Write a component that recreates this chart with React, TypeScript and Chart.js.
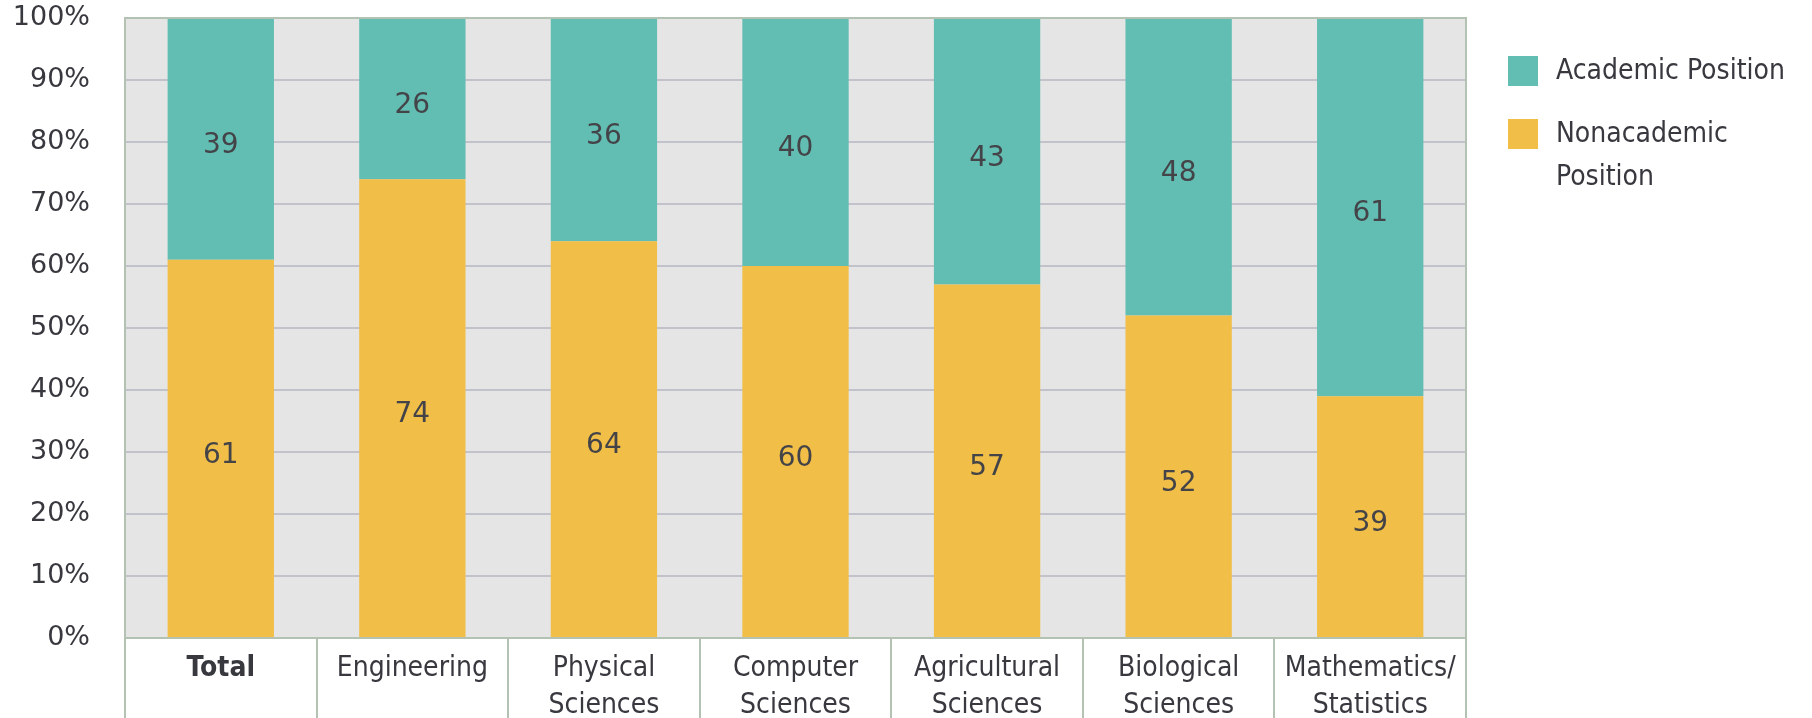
import React, { useEffect, useRef } from "react";
import { Chart, registerables } from "chart.js";

Chart.register(...registerables);

const categories: (string | string[])[] = [
  "Total",
  "Engineering",
  ["Physical", "Sciences"],
  ["Computer", "Sciences"],
  ["Agricultural", "Sciences"],
  ["Biological", "Sciences"],
  ["Mathematics/", "Statistics"],
];
const nonacademic = [61, 74, 64, 60, 57, 52, 39];
const academic = [39, 26, 36, 40, 43, 48, 61];
const yTicks = [0, 10, 20, 30, 40, 50, 60, 70, 80, 90, 100];
const legendLabels: string[][] = [["Academic Position"], ["Nonacademic", "Position"]];

const TEAL = "#62bdb3";
const YELLOW = "#f1be48";
const TEXT = "#38383f";
const FRAME = "#b3c2b3";
const GRID = "#c2c2ca";
const PLOT_BG = "#e5e5e5";
const NARROW = '"DejaVu Sans Condensed", "Liberation Sans Narrow", sans-serif';
const SANS = '"DejaVu Sans", sans-serif';

export default function App() {
  const ref = useRef<HTMLCanvasElement | null>(null);

  useEffect(() => {
    const canvas = ref.current;
    if (!canvas) return;

    const framePlugin = {
      id: "frame",
      beforeDraw(chart: any) {
        const { ctx, chartArea: a } = chart;
        ctx.save();
        ctx.fillStyle = PLOT_BG;
        ctx.fillRect(a.left, a.top, a.right - a.left, a.bottom - a.top);
        ctx.restore();
      },
      afterDraw(chart: any) {
        const { ctx, chartArea: a } = chart;
        const H = chart.height;
        ctx.save();
        ctx.strokeStyle = FRAME;
        ctx.lineWidth = 2;
        ctx.strokeRect(a.left, a.top, a.right - a.left, a.bottom - a.top);
        const n = categories.length;
        const w = (a.right - a.left) / n;
        for (let i = 0; i <= n; i++) {
          const x = Math.round(a.left + i * w);
          ctx.beginPath();
          ctx.moveTo(x, a.bottom);
          ctx.lineTo(x, H);
          ctx.stroke();
        }
        // legend
        const colors = [TEAL, YELLOW];
        const sq = 30;
        const sx = a.right + 42;
        const tops = [56, 119];
        ctx.font = `28px ${NARROW}`;
        ctx.textBaseline = "middle";
        ctx.textAlign = "left";
        legendLabels.forEach((lines, i) => {
          ctx.fillStyle = colors[i];
          ctx.fillRect(sx, tops[i], sq, sq);
          ctx.fillStyle = TEXT;
          lines.forEach((t, j) => {
            ctx.fillText(t, sx + 48, tops[i] + 16 + j * 43);
          });
        });
        ctx.restore();
      },
    };

    const valuePlugin = {
      id: "values",
      afterDatasetsDraw(chart: any) {
        const { ctx } = chart;
        ctx.save();
        ctx.font = `28px ${SANS}`;
        ctx.fillStyle = "#444448";
        ctx.textAlign = "center";
        ctx.textBaseline = "middle";
        chart.data.datasets.forEach((ds: any, di: number) => {
          const meta = chart.getDatasetMeta(di);
          meta.data.forEach((el: any, i: number) => {
            const y = (el.y + el.base) / 2 + 7;
            ctx.fillText(String(ds.data[i]), el.x, y);
          });
        });
        ctx.restore();
      },
    };

    const chart = new Chart(canvas, {
      type: "bar",
      data: {
        labels: categories,
        datasets: [
          {
            label: "Nonacademic Position",
            data: nonacademic,
            backgroundColor: YELLOW,
            borderWidth: 0,
            categoryPercentage: 1,
            barPercentage: 0.555,
          },
          {
            label: "Academic Position",
            data: academic,
            backgroundColor: TEAL,
            borderWidth: 0,
            categoryPercentage: 1,
            barPercentage: 0.555,
          },
        ],
      },
      options: {
        responsive: false,
        animation: false,
        layout: { padding: { top: 18, right: 346, left: 0, bottom: 0 } },
        plugins: {
          legend: { display: false },
          tooltip: { enabled: false },
        },
        scales: {
          x: {
            stacked: true,
            grid: { display: false },
            border: { display: true, color: FRAME, width: 2 },
            ticks: {
              color: TEXT,
              padding: 5,
              maxRotation: 0,
              autoSkip: false,
              font: (c: any) => ({
                family: NARROW,
                size: 28,
                lineHeight: 1.3,
                weight: c.index === 0 ? "bold" : "normal",
              }),
            },
            afterFit(scale: any) {
              scale.height = 80;
              scale.paddingLeft = 0;
              scale.paddingRight = 0;
            },
          },
          y: {
            stacked: true,
            min: 0,
            max: 100,
            afterBuildTicks(scale: any) {
              scale.ticks = yTicks.map((v) => ({ value: v }));
            },
            grid: { color: GRID, lineWidth: 2, drawTicks: false },
            border: { display: true, color: FRAME, width: 2 },
            ticks: {
              color: TEXT,
              padding: 35,
              font: { family: SANS, size: 27 },
              callback: (v: any) => `${v}%`,
            },
            afterFit(scale: any) {
              scale.width = 125;
              scale.paddingTop = 0;
              scale.paddingBottom = 0;
            },
          },
        },
      },
      plugins: [framePlugin, valuePlugin],
    });

    return () => chart.destroy();
  }, []);

  return (
    <div style={{ position: "fixed", left: 0, top: 0, width: 1812, height: 718, background: "#fff" }}>
      <canvas ref={ref} width={1812} height={718} />
    </div>
  );
}
